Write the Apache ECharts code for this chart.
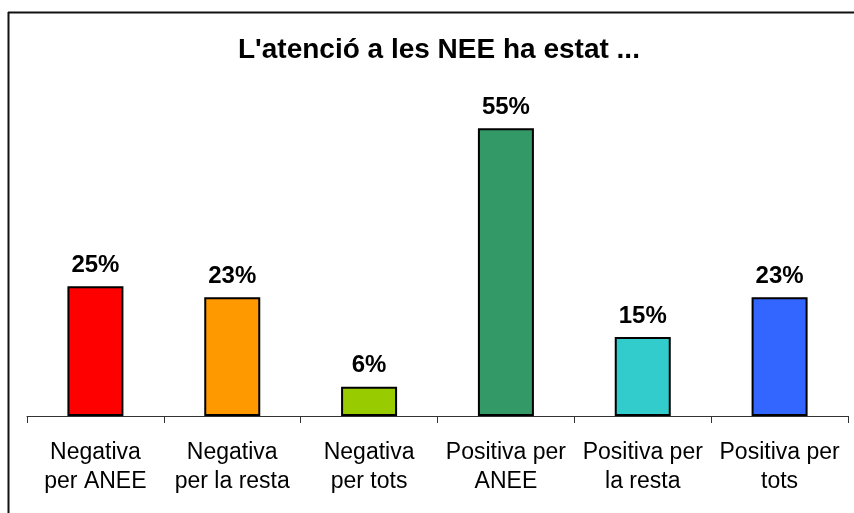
<!DOCTYPE html>
<html>
<head>
<meta charset="utf-8">
<script src="https://cdn.jsdelivr.net/npm/echarts@6/dist/echarts.min.js"></script>
<style>
  html, body { margin: 0; padding: 0; background: #fff; }
  #chart { width: 854px; height: 513px; }
</style>
</head>
<body>
<div id="chart"></div>
<script>
// categories and values (bar heights, labels rounded)
const categories = [
  'Negativa\nper ANEE',
  'Negativa\nper la resta',
  'Negativa\nper tots',
  'Positiva per\nANEE',
  'Positiva per\nla resta',
  'Positiva per\ntots'
];
const values = [24.8, 22.7, 5.6, 55, 15.1, 22.7];
const colors = ['#FF0000', '#FF9900', '#99CC00', '#339966', '#33CCCC', '#3366FF'];

const chart = echarts.init(document.getElementById('chart'));
const font = 'Liberation Sans, Arial, sans-serif';

const option = {
  animation: false,
  backgroundColor: '#fff',
  title: {
    text: "L'atenció a les NEE ha estat ...",
    left: 233,
    top: 31,
    textStyle: { fontFamily: font, fontSize: 28, fontWeight: 'bold', color: '#000' }
  },
  grid: { left: 27, right: 6, top: 102, bottom: 97 },
  xAxis: {
    type: 'category',
    data: categories,
    axisLine: { lineStyle: { color: '#333', width: 1 } },
    axisTick: { show: true, length: 7, lineStyle: { color: '#333' } },
    axisLabel: {
      interval: 0,
      margin: 22,
      fontFamily: font,
      fontSize: 23,
      lineHeight: 29,
      color: '#000'
    }
  },
  yAxis: {
    type: 'value',
    min: 0,
    max: 60,
    show: false
  },
  series: [{
    type: 'bar',
    barWidth: 56,
    data: values.map((v, i) => ({
      value: v,
      itemStyle: { color: colors[i], borderColor: '#000', borderWidth: 2 }
    })),
    label: {
      show: true,
      position: 'top',
      distance: 9,
      fontFamily: font,
      fontSize: 24,
      fontWeight: 'bold',
      color: '#000',
      formatter: p => Math.round(p.value) + '%'
    }
  }],
  graphic: [
    { type: 'line', shape: { x1: 8.5, y1: 12, x2: 8.5, y2: 513 }, style: { stroke: '#111', lineWidth: 2 } },
    { type: 'line', shape: { x1: 8, y1: 12.5, x2: 854, y2: 12.5 }, style: { stroke: '#111', lineWidth: 2 } }
  ]
};

chart.setOption(option);
</script>
</body>
</html>
